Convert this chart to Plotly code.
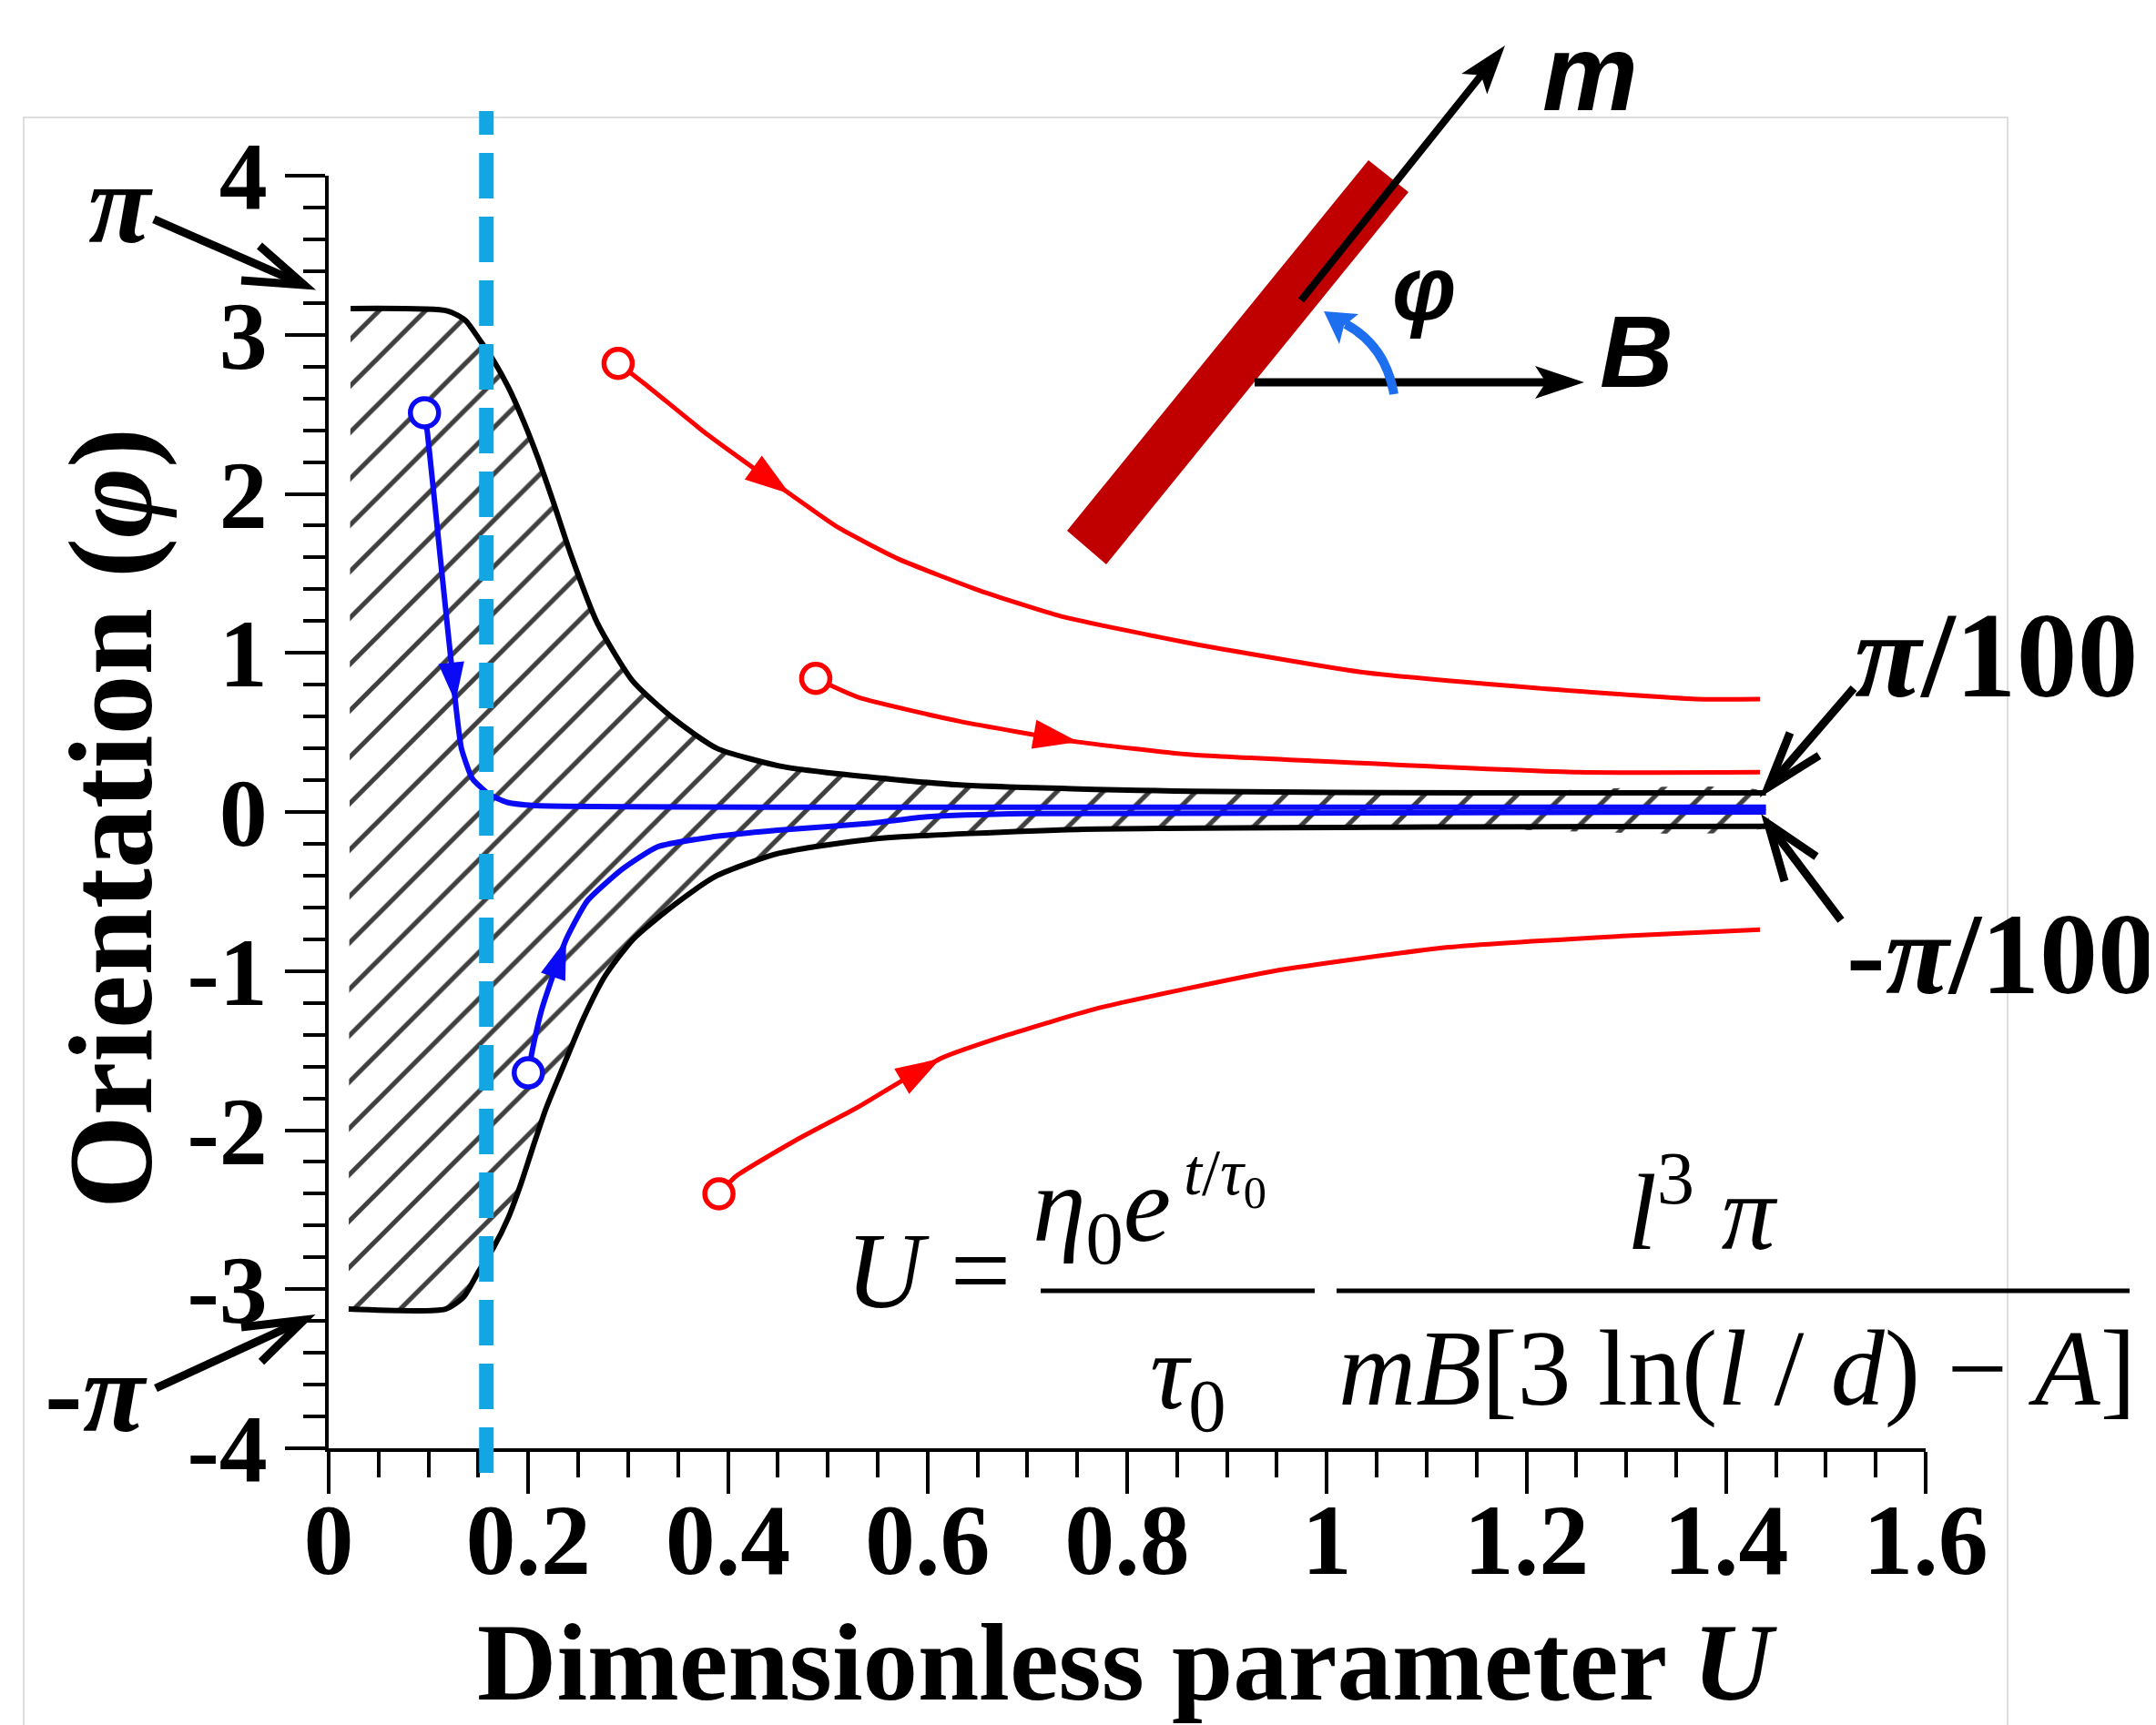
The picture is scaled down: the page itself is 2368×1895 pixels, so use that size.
import plotly.graph_objects as go

# ---------------- data ----------------
BAND_UPPER_U = [0.022, 0.119, 0.137, 0.151, 0.165, 0.18, 0.195, 0.21, 0.225, 0.242, 0.269,
                0.305, 0.347, 0.389, 0.451, 0.51, 0.632, 0.864, 1.15, 1.44]
BAND_UPPER_PHI = [3.165, 3.15, 3.09, 2.97, 2.84, 2.67, 2.46, 2.22, 1.95, 1.63, 1.19,
                  0.82, 0.58, 0.40, 0.29, 0.24, 0.17, 0.13, 0.12, 0.12]
BAND_LOWER_U = [0.02, 0.117, 0.135, 0.151, 0.165, 0.18, 0.193, 0.205, 0.218, 0.235, 0.255,
                0.277, 0.305, 0.347, 0.389, 0.451, 0.545, 0.75, 1.1, 1.44]
BAND_LOWER_PHI = [-3.125, -3.125, -3.05, -2.88, -2.74, -2.55, -2.33, -2.1, -1.86, -1.6, -1.3,
                  -1.03, -0.8, -0.58, -0.4, -0.26, -0.17, -0.11, -0.095, -0.09]

BLUE1_U = [0.096, 0.099, 0.112, 0.127, 0.133, 0.144, 0.161, 0.179, 0.207, 0.5, 1.0, 1.44]
BLUE1_PHI = [2.51, 2.38, 1.59, 0.69, 0.40, 0.21, 0.11, 0.06, 0.04, 0.03, 0.03, 0.03]
BLUE2_U = [0.2, 0.204, 0.214, 0.238, 0.259, 0.294, 0.329, 0.381, 0.45, 0.545, 0.6, 0.7, 1.44]
BLUE2_PHI = [-1.64, -1.50, -1.23, -0.80, -0.56, -0.36, -0.22, -0.16, -0.115, -0.07, -0.03, -0.01, 0.0]

RED1_U = [0.29, 0.319, 0.38, 0.462, 0.51, 0.571, 0.653, 0.734, 0.864, 1.034, 1.209, 1.37, 1.434]
RED1_PHI = [2.82, 2.68, 2.37, 2.0, 1.79, 1.59, 1.39, 1.23, 1.06, 0.88, 0.78, 0.71, 0.71]
RED2_U = [0.488, 0.531, 0.632, 0.751, 0.864, 0.99, 1.252, 1.434]
RED2_PHI = [0.84, 0.72, 0.57, 0.44, 0.36, 0.32, 0.25, 0.25]
RED3_U = [0.391, 0.408, 0.469, 0.529, 0.613, 0.681, 0.773, 0.947, 1.122, 1.296, 1.434]
RED3_PHI = [-2.40, -2.29, -2.06, -1.86, -1.55, -1.40, -1.23, -1.0, -0.85, -0.78, -0.74]

# direction arrows on trajectories: (from point, tip point)
RED_ARROW_FROM_U = [0.38, 0.632, 0.529]
RED_ARROW_FROM_PHI = [2.37, 0.57, -1.86]
RED_ARROW_TIP_U = [0.462, 0.751, 0.613]
RED_ARROW_TIP_PHI = [2.0, 0.44, -1.55]
BLUE_ARROW_FROM_U = [0.112, 0.214]
BLUE_ARROW_FROM_PHI = [1.59, -1.23]
BLUE_ARROW_TIP_U = [0.127, 0.238]
BLUE_ARROW_TIP_PHI = [0.69, -0.80]

CRITICAL_U = 0.158

X_TICKS = [0, 0.2, 0.4, 0.6, 0.8, 1.0, 1.2, 1.4, 1.6]
X_TICK_TEXT = ["0", "0.2", "0.4", "0.6", "0.8", "1", "1.2", "1.4", "1.6"]
Y_TICKS = [-4, -3, -2, -1, 0, 1, 2, 3, 4]
Y_TICK_TEXT = ["-4", "-3", "-2", "-1", "0", "1", "2", "3", "4"]

# ---------------- layout geometry (pixels) ----------------
W, H = 2368, 1895
L, R, T, B = 353, 2107, 185, 1583


def px(x):
    return (x - L) / (R - L)


def py(y):
    return (B - y) / (B - T)


def path(points, close=False):
    s = "M " + " L ".join(f"{px(x):.5f},{py(y):.5f}" for x, y in points)
    return s + (" Z" if close else "")


SERIF = "Liberation Serif"
SANS = "Liberation Sans"
RED = "#ff0000"
BLUE = "#0a0af5"

fig = go.Figure()

# hatched band (pattern drawn twice so the thin diagonal strokes come out black)
band_x = BAND_UPPER_U + BAND_LOWER_U[::-1]
band_y = BAND_UPPER_PHI + BAND_LOWER_PHI[::-1]
for bg in ["white", "rgba(0,0,0,0)"]:
    fig.add_trace(go.Scatter(
        x=band_x, y=band_y,
        mode="lines", fill="toself", fillcolor=bg,
        fillpattern=dict(shape="/", fgcolor="black", bgcolor=bg, size=36, solidity=0.14),
        line=dict(width=0, color="black", shape="spline", smoothing=0.6),
        hoverinfo="skip", showlegend=False))
for xs, ys in [(BAND_UPPER_U, BAND_UPPER_PHI), (BAND_LOWER_U, BAND_LOWER_PHI)]:
    fig.add_trace(go.Scatter(x=xs, y=ys, mode="lines",
                             line=dict(color="black", width=6, shape="spline", smoothing=0.6),
                             showlegend=False, hoverinfo="skip"))

# trajectories
for xs, ys, col, lw in [(RED1_U, RED1_PHI, RED, 5), (RED2_U, RED2_PHI, RED, 5), (RED3_U, RED3_PHI, RED, 5),
                        (BLUE1_U, BLUE1_PHI, BLUE, 6), (BLUE2_U, BLUE2_PHI, BLUE, 6)]:
    fig.add_trace(go.Scatter(x=xs, y=ys, mode="lines",
                             line=dict(color=col, width=lw, shape="spline", smoothing=0.5),
                             showlegend=False, hoverinfo="skip"))
    fig.add_trace(go.Scatter(x=[xs[0]], y=[ys[0]], mode="markers",
                             marker=dict(symbol="circle", size=31, color="white",
                                         line=dict(color=col, width=5.5)),
                             showlegend=False, hoverinfo="skip"))

# direction arrowheads
for fu, fp, tu, tp, col, sz in (
        [(a, b, c, d, RED, 52) for a, b, c, d in zip(RED_ARROW_FROM_U, RED_ARROW_FROM_PHI, RED_ARROW_TIP_U, RED_ARROW_TIP_PHI)] +
        [(a, b, c, d, BLUE, 46) for a, b, c, d in zip(BLUE_ARROW_FROM_U, BLUE_ARROW_FROM_PHI, BLUE_ARROW_TIP_U, BLUE_ARROW_TIP_PHI)]):
    fig.add_trace(go.Scatter(x=[fu, tu], y=[fp, tp], mode="markers",
                             marker=dict(symbol="arrow", size=sz, color=col, angleref="previous",
                                         line=dict(width=0)),
                             showlegend=False, hoverinfo="skip"))

shapes = []
annotations = []

# outer light frame
shapes.append(dict(type="rect", xref="paper", yref="paper", x0=px(18), x1=px(2197), y0=py(1905), y1=py(121),
                   line=dict(color="#d4d4d4", width=1.5), layer="below"))

# critical U dashed line
shapes.append(dict(type="line", xref="x", yref="paper", x0=CRITICAL_U, x1=CRITICAL_U,
                   y0=py(1610), y1=py(114), line=dict(color="#12a6e2", width=16, dash="50px,20px")))

# ---- inset: rod, m, B, phi ----
shapes.append(dict(type="path", xref="paper", yref="paper",
                   path=path([(1164, 575), (1207, 612), (1539, 203), (1495, 168)], close=True),
                   fillcolor="#c00000", line=dict(width=0)))


def arrow_shapes(x0, y0, x1, y1, color, lw, hl, hw, notch):
    dx, dy = x1 - x0, y1 - y0
    n = (dx * dx + dy * dy) ** 0.5
    ux, uy = dx / n, dy / n
    nx, ny = -uy, ux
    bx, by = x1 - hl * ux, y1 - hl * uy
    sx, sy = x1 - (hl - notch) * ux, y1 - (hl - notch) * uy
    out = [dict(type="path", xref="paper", yref="paper", path=path([(x0, y0), (sx, sy)]),
                line=dict(color=color, width=lw)),
           dict(type="path", xref="paper", yref="paper",
                path=path([(x1, y1), (bx + hw * nx, by + hw * ny), (sx, sy), (bx - hw * nx, by - hw * ny)], close=True),
                fillcolor=color, line=dict(width=0))]
    return out


shapes += arrow_shapes(1421, 322, 1645, 42, "black", 8, 54, 18, 12)
shapes += arrow_shapes(1370, 412, 1732, 412, "black", 9, 54, 18, 12)

# curved phi arrow (quadratic bezier)
shapes.append(dict(type="path", xref="paper", yref="paper",
                   path=f"M {px(1523):.5f},{py(425):.5f} Q {px(1514):.5f},{py(372):.5f} {px(1470):.5f},{py(348):.5f}",
                   line=dict(color="#1e6ff0", width=10)))
shapes.append(dict(type="path", xref="paper", yref="paper",
                   path=path([(1446, 334), (1484, 337), (1468, 350), (1463, 370)], close=True),
                   fillcolor="#1e6ff0", line=dict(width=0)))

annotations += [
    dict(text="<b><i>m</i></b>", x=px(1738), y=py(72), xref="paper", yref="paper", showarrow=False,
         font=dict(family=SANS, size=118, color="black"), xanchor="center", yanchor="middle"),
    dict(text="<b><i>B</i></b>", x=px(1789), y=py(378), xref="paper", yref="paper", showarrow=False,
         font=dict(family=SANS, size=112, color="black"), xanchor="center", yanchor="middle"),
    dict(text="<b><i>φ</i></b>", x=px(1556), y=py(308), xref="paper", yref="paper", showarrow=False,
         font=dict(family=SANS, size=100, color="black"), xanchor="center", yanchor="middle"),
]

# ---- pi annotations with arrows ----


def chevron_arrow(tail, tip, arm1, arm2, lw=9):
    return [dict(type="path", xref="paper", yref="paper", path=path([tail, tip]), line=dict(color="black", width=lw)),
            dict(type="path", xref="paper", yref="paper", path=path([arm1, tip, arm2]), line=dict(color="black", width=lw))]


shapes += chevron_arrow((161, 233), (326, 305), (277, 262), (257, 300))
shapes += chevron_arrow((163, 1517), (326, 1442), (257, 1450), (279, 1488))
shapes += chevron_arrow((2028, 748), (1934, 857), (1958, 797), (1990, 822))
shapes += chevron_arrow((2014, 1003), (1934, 897), (1952, 960), (1987, 933))

annotations += [
    dict(text="<b><i>π</i></b>", x=px(124), y=py(216), xref="paper", yref="paper", showarrow=False,
         font=dict(family=SERIF, size=125, color="black"), xanchor="center", yanchor="middle"),
    dict(text="<b>-<i>π</i></b>", x=px(97), y=py(1522), xref="paper", yref="paper", showarrow=False,
         font=dict(family=SERIF, size=125, color="black"), xanchor="center", yanchor="middle"),
    dict(text="<b><i>π</i>/100</b>", x=px(2184), y=py(712), xref="paper", yref="paper", showarrow=False,
         font=dict(family=SERIF, size=134, color="black"), xanchor="center", yanchor="middle"),
    dict(text="<b>-<i>π</i>/100</b>", x=px(2190), y=py(1040), xref="paper", yref="paper", showarrow=False,
         font=dict(family=SERIF, size=128, color="black"), xanchor="center", yanchor="middle"),
]

# ---- formula ----
FS = 118
shapes.append(dict(type="line", xref="paper", yref="paper", x0=px(1135), x1=px(1436), y0=py(1410), y1=py(1410),
                   line=dict(color="black", width=5)))
shapes.append(dict(type="line", xref="paper", yref="paper", x0=px(1460), x1=px(2331), y0=py(1410), y1=py(1410),
                   line=dict(color="black", width=5)))
annotations += [
    dict(text="<i>U</i> =", x=px(1104), y=py(1388), xref="paper", yref="paper", showarrow=False,
         font=dict(family=SERIF, size=FS, color="black"), xanchor="right", yanchor="middle"),
    dict(text="<i>η</i><sub>0</sub><i>e</i>", x=px(1124), y=py(1400), xref="paper", yref="paper", showarrow=False,
         font=dict(family=SERIF, size=FS, color="black"), xanchor="left", yanchor="bottom"),
    dict(text="<i>t</i>/<i>τ</i><sub>0</sub>", x=px(1290), y=py(1238), xref="paper", yref="paper", showarrow=False,
         font=dict(family=SERIF, size=72, color="black"), xanchor="left", yanchor="top"),
    dict(text="<i>τ</i><sub>0</sub>", x=px(1297), y=py(1432), xref="paper", yref="paper", showarrow=False,
         font=dict(family=SERIF, size=FS, color="black"), xanchor="center", yanchor="top"),
    dict(text="<i>l</i><sup>3</sup> <i>π</i>", x=px(1862), y=py(1392), xref="paper", yref="paper", showarrow=False,
         font=dict(family=SERIF, size=FS, color="black"), xanchor="center", yanchor="bottom"),
    dict(text="<i>mB</i>[3 ln(<i>l</i> / <i>d</i>) − <i>A</i>]", x=px(1900), y=py(1428), xref="paper", yref="paper",
         showarrow=False, font=dict(family=SERIF, size=FS, color="black"), xanchor="center", yanchor="top"),
]

# ---- axis titles ----
annotations += [
    dict(text="<b>Dimensionless parameter <i>U</i></b>", x=px(1230), y=py(1818), xref="paper", yref="paper",
         showarrow=False, font=dict(family=SERIF, size=121, color="black"), xanchor="center", yanchor="middle"),
    dict(text="<b>Orientation (<i>φ</i>)</b>", x=px(113), y=py(891), xref="paper", yref="paper",
         showarrow=False, textangle=-90, font=dict(family=SERIF, size=132, color="black"),
         xanchor="center", yanchor="middle"),
]

fig.update_layout(
    width=W, height=H,
    margin=dict(l=L, r=W - R, t=T, b=H - B, pad=0),
    paper_bgcolor="white", plot_bgcolor="white",
    showlegend=False,
    shapes=shapes, annotations=annotations,
    xaxis=dict(range=[0, 1.6], showgrid=False, zeroline=False, showline=True, linecolor="black", linewidth=4,
               ticks="outside", ticklen=46, tickwidth=4, tickcolor="black",
               tickvals=X_TICKS, ticktext=X_TICK_TEXT, ticklabelstandoff=-44,
               tickfont=dict(family=SERIF, size=110, color="black", weight="bold"),
               minor=dict(dtick=0.05, ticks="outside", ticklen=28, tickwidth=4, tickcolor="black", showgrid=False)),
    yaxis=dict(range=[-4, 4], showgrid=False, zeroline=False, showline=True, linecolor="black", linewidth=4,
               ticks="outside", ticklen=44, tickwidth=4, tickcolor="black",
               tickvals=Y_TICKS, ticktext=Y_TICK_TEXT, ticklabelstandoff=-2,
               tickfont=dict(family=SERIF, size=106, color="black", weight="bold"),
               minor=dict(dtick=0.2, ticks="outside", ticklen=24, tickwidth=4, tickcolor="black", showgrid=False)),
)

fig.write_html("out.html")
